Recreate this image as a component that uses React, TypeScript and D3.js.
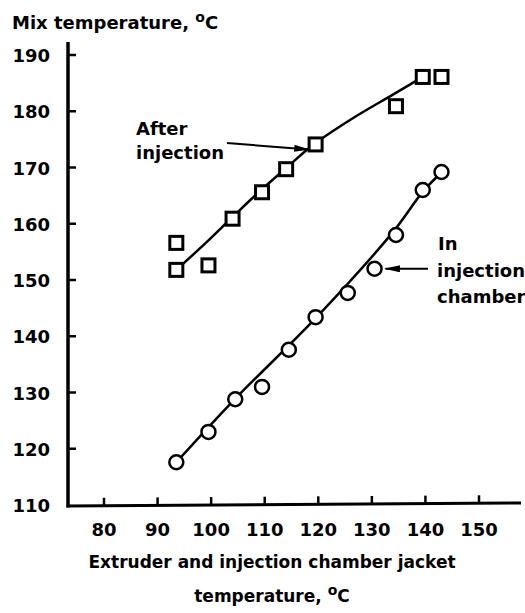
import React from "react";
import * as d3 from "d3";

// Jacket temperature (°C) and mix temperature (°C) readings
const afterInjectionX = [93.5, 93.5, 99.5, 104, 109.5, 114, 119.5, 134.5, 139.5, 143];
const afterInjectionY = [156.6, 151.8, 152.6, 160.9, 165.6, 169.7, 174.1, 180.9, 186.1, 186.1];

const chamberX = [93.5, 99.5, 104.5, 109.5, 114.5, 119.5, 125.5, 130.5, 134.5, 139.5, 143];
const chamberY = [117.6, 123.0, 128.8, 131.0, 137.6, 143.4, 147.7, 152.0, 158.0, 166.0, 169.2];

// Hand-drawn trend curves
const afterCurveX = [93.5, 99, 104, 109, 114, 119, 126, 134, 139.5];
const afterCurveY = [151.8, 156.6, 161.2, 165.7, 169.9, 174.0, 178.5, 183.0, 186.1];
const chamberCurveX = [93.5, 104.3, 119.6, 134, 139.6, 143.1];
const chamberCurveY = [117.6, 128.7, 143.3, 158.6, 165.8, 169.2];

const xTicks = [80, 90, 100, 110, 120, 130, 140, 150];
const yTicks = [110, 120, 130, 140, 150, 160, 170, 180, 190];

const W = 525;
const H = 613;
const FONT = "'DejaVu Sans', sans-serif";

export default function App() {
  const x = d3.scaleLinear().domain([80, 150]).range([104, 479]);
  const y = d3.scaleLinear().domain([110, 190]).range([505, 55]);

  const axisX0 = 68;
  const axisY0 = 506;

  const curve = d3
    .line<[number, number]>()
    .x((d) => x(d[0]))
    .y((d) => y(d[1]))
    .curve(d3.curveCatmullRom.alpha(0.5));

  const afterPts = afterCurveX.map((v, i) => [v, afterCurveY[i]] as [number, number]);
  const chamberPts = chamberCurveX.map((v, i) => [v, chamberCurveY[i]] as [number, number]);

  // arrow targets: square at 119.5 and circle at 130.5
  const tA = { x: x(afterInjectionX[6]) - 7, y: y(afterInjectionY[6]) + 5 };
  const tB = { x: x(chamberX[7]) + 11, y: y(chamberY[7]) };

  const sq = 13;

  return (
    <svg
      width={W}
      height={H}
      style={{ position: "absolute", left: 0, top: 0, background: "#fff" }}
      fontFamily={FONT}
      fontWeight="bold"
    >
      <defs>
        <marker
          id="arrow"
          viewBox="0 0 10 10"
          refX="9"
          refY="5"
          markerWidth="8"
          markerHeight="3.5"
          orient="auto"
          markerUnits="strokeWidth"
          preserveAspectRatio="none"
        >
          <path d="M0,0 L10,5 L0,10 z" fill="#000" />
        </marker>
      </defs>

      {/* y axis title */}
      <text x={12} y={29} fontSize={18}>
        Mix temperature,{" "}
        <tspan fontSize={14} dy={-7}>o</tspan>
        <tspan dy={7}>C</tspan>
      </text>

      {/* axes */}
      <line x1={axisX0} y1={42} x2={axisX0} y2={axisY0 + 1.5} stroke="#000" strokeWidth={3.5} />
      <line x1={axisX0 - 1.5} y1={axisY0} x2={521} y2={axisY0 - 3} stroke="#000" strokeWidth={3} />

      {yTicks.map((t) => (
        <g key={"y" + t}>
          {t !== 110 && (
            <line x1={axisX0} x2={axisX0 + 8} y1={y(t)} y2={y(t)} stroke="#000" strokeWidth={2.5} />
          )}
          <text x={50} y={y(t) + 7} textAnchor="end" fontSize={18}>
            {t}
          </text>
        </g>
      ))}

      {xTicks.map((t) => {
        const yy = axisY0 - ((x(t) - axisX0) / (521 - axisX0)) * 3;
        return (
          <g key={"x" + t}>
            <line x1={x(t)} x2={x(t)} y1={yy} y2={yy - 8} stroke="#000" strokeWidth={2.5} />
            <text x={x(t)} y={536} textAnchor="middle" fontSize={18}>
              {t}
            </text>
          </g>
        );
      })}

      {/* x axis title */}
      <text x={272} y={568} textAnchor="middle" fontSize={17}>
        Extruder and injection chamber jacket
      </text>
      <text x={272} y={602} textAnchor="middle" fontSize={17}>
        temperature,{" "}
        <tspan fontSize={14} dy={-7}>o</tspan>
        <tspan dy={7}>C</tspan>
      </text>

      {/* trend lines */}
      <path d={curve(afterPts) ?? ""} fill="none" stroke="#000" strokeWidth={2.5} />
      <path d={curve(chamberPts) ?? ""} fill="none" stroke="#000" strokeWidth={2.5} />

      {/* After injection markers */}
      {afterInjectionX.map((v, i) => (
        <rect
          key={"s" + i}
          x={x(v) - sq / 2}
          y={y(afterInjectionY[i]) - sq / 2}
          width={sq}
          height={sq}
          fill="#fff"
          stroke="#000"
          strokeWidth={3}
        />
      ))}

      {/* In injection chamber markers */}
      {chamberX.map((v, i) => (
        <circle
          key={"c" + i}
          cx={x(v)}
          cy={y(chamberY[i])}
          r={7}
          fill="#fff"
          stroke="#000"
          strokeWidth={2.5}
        />
      ))}

      {/* annotations */}
      <text x={136} y={135} fontSize={18}>After</text>
      <text x={136} y={159} fontSize={18}>injection</text>
      <line x1={227} y1={143} x2={tA.x} y2={tA.y} stroke="#000" strokeWidth={2} markerEnd="url(#arrow)" />

      <text x={438} y={250} fontSize={18}>In</text>
      <text x={437} y={277} fontSize={18}>injection</text>
      <text x={437} y={303} fontSize={18}>chamber</text>
      <line x1={428} y1={tB.y} x2={tB.x} y2={tB.y} stroke="#000" strokeWidth={2} markerEnd="url(#arrow)" />
    </svg>
  );
}
